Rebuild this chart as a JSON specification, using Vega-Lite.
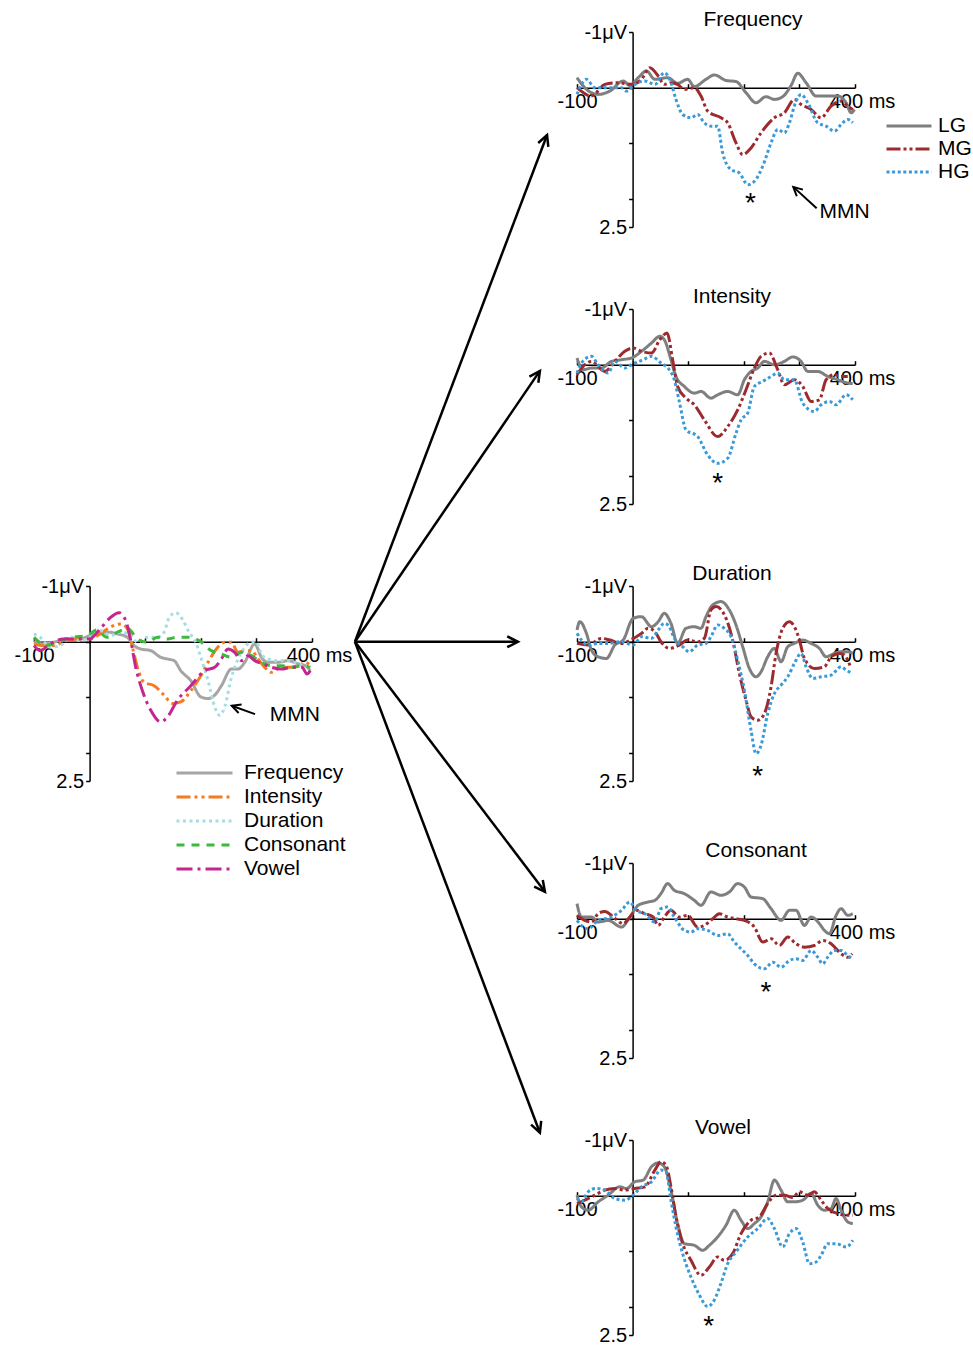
{
"$schema": "https://vega.github.io/schema/vega-lite/v6.json",
"background": "white",
"padding": {"left": 13, "top": 9, "right": 0, "bottom": 0},
"config": {
 "font": "Liberation Sans",
 "view": {"stroke": null},
 "axis": {"domainColor": "black", "domainWidth": 1.5, "tickColor": "black", "tickWidth": 1.5, "labelColor": "black", "labelFontSize": 20, "labelFont": "Liberation Sans", "grid": false, "labelFlush": false, "labelOverlap": false, "labelBound": false},
 "axisX": {"tickSize": -4, "labelPadding": 8},
 "axisY": {"tickSize": 4, "labelPadding": 2},
 "title": {"fontSize": 21, "fontWeight": "normal", "font": "Liberation Sans", "color": "black", "anchor": "middle", "frame": "group", "offset": -8, "baseline": "alphabetic"},
 "legend": {"symbolType": "stroke", "symbolStrokeWidth": 3, "labelFontSize": 21, "labelColor": "black", "labelFont": "Liberation Sans", "rowPadding": 0, "labelLimit": 300},
 "text": {"color": "black", "font": "Liberation Sans"}
},
"datasets": {
 "overall": [
  {"condition":"Frequency","ms":-100,"uv":0},{"condition":"Frequency","ms":-83,"uv":0.04},{"condition":"Frequency","ms":-65,"uv":0.01},{"condition":"Frequency","ms":-41,"uv":-0.05},{"condition":"Frequency","ms":-17,"uv":-0.05},{"condition":"Frequency","ms":0,"uv":-0.11},{"condition":"Frequency","ms":19,"uv":-0.17},{"condition":"Frequency","ms":37,"uv":-0.17},{"condition":"Frequency","ms":50,"uv":-0.14},{"condition":"Frequency","ms":68,"uv":-0.08},{"condition":"Frequency","ms":80,"uv":0.07},{"condition":"Frequency","ms":92,"uv":0.13},{"condition":"Frequency","ms":110,"uv":0.16},{"condition":"Frequency","ms":128,"uv":0.28},{"condition":"Frequency","ms":140,"uv":0.31},{"condition":"Frequency","ms":152,"uv":0.34},{"condition":"Frequency","ms":164,"uv":0.52},{"condition":"Frequency","ms":182,"uv":0.7},{"condition":"Frequency","ms":200,"uv":0.99},{"condition":"Frequency","ms":213,"uv":1.02},{"condition":"Frequency","ms":225,"uv":0.96},{"condition":"Frequency","ms":237,"uv":0.79},{"condition":"Frequency","ms":255,"uv":0.49},{"condition":"Frequency","ms":267,"uv":0.49},{"condition":"Frequency","ms":279,"uv":0.37},{"condition":"Frequency","ms":297,"uv":0.04},{"condition":"Frequency","ms":309,"uv":0.28},{"condition":"Frequency","ms":321,"uv":0.37},{"condition":"Frequency","ms":339,"uv":0.37},{"condition":"Frequency","ms":357,"uv":0.34},{"condition":"Frequency","ms":376,"uv":0.4},{"condition":"Frequency","ms":388,"uv":0.43},{"condition":"Frequency","ms":397,"uv":0.52},
  {"condition":"Intensity","ms":-100,"uv":0.04},{"condition":"Intensity","ms":-83,"uv":0.07},{"condition":"Intensity","ms":-65,"uv":0.07},{"condition":"Intensity","ms":-41,"uv":-0.02},{"condition":"Intensity","ms":-17,"uv":-0.05},{"condition":"Intensity","ms":0,"uv":-0.05},{"condition":"Intensity","ms":19,"uv":-0.14},{"condition":"Intensity","ms":37,"uv":-0.26},{"condition":"Intensity","ms":56,"uv":-0.32},{"condition":"Intensity","ms":68,"uv":-0.23},{"condition":"Intensity","ms":77,"uv":0.1},{"condition":"Intensity","ms":86,"uv":0.46},{"condition":"Intensity","ms":98,"uv":0.73},{"condition":"Intensity","ms":116,"uv":0.79},{"condition":"Intensity","ms":134,"uv":0.96},{"condition":"Intensity","ms":149,"uv":1.11},{"condition":"Intensity","ms":164,"uv":1.08},{"condition":"Intensity","ms":182,"uv":0.88},{"condition":"Intensity","ms":200,"uv":0.61},{"condition":"Intensity","ms":213,"uv":0.37},{"condition":"Intensity","ms":228,"uv":0.13},{"condition":"Intensity","ms":243,"uv":0.01},{"condition":"Intensity","ms":255,"uv":0.01},{"condition":"Intensity","ms":267,"uv":0.19},{"condition":"Intensity","ms":279,"uv":0.16},{"condition":"Intensity","ms":291,"uv":0.16},{"condition":"Intensity","ms":303,"uv":0.31},{"condition":"Intensity","ms":315,"uv":0.46},{"condition":"Intensity","ms":327,"uv":0.55},{"condition":"Intensity","ms":345,"uv":0.46},{"condition":"Intensity","ms":364,"uv":0.46},{"condition":"Intensity","ms":376,"uv":0.43},{"condition":"Intensity","ms":388,"uv":0.37},{"condition":"Intensity","ms":397,"uv":0.43},
  {"condition":"Duration","ms":-100,"uv":-0.14},{"condition":"Duration","ms":-89,"uv":-0.08},{"condition":"Duration","ms":-71,"uv":0.1},{"condition":"Duration","ms":-53,"uv":0.07},{"condition":"Duration","ms":-35,"uv":-0.08},{"condition":"Duration","ms":-17,"uv":-0.02},{"condition":"Duration","ms":0,"uv":-0.08},{"condition":"Duration","ms":19,"uv":-0.2},{"condition":"Duration","ms":37,"uv":-0.11},{"condition":"Duration","ms":56,"uv":-0.17},{"condition":"Duration","ms":71,"uv":-0.14},{"condition":"Duration","ms":86,"uv":0.01},{"condition":"Duration","ms":104,"uv":-0.08},{"condition":"Duration","ms":122,"uv":-0.08},{"condition":"Duration","ms":134,"uv":-0.17},{"condition":"Duration","ms":143,"uv":-0.43},{"condition":"Duration","ms":155,"uv":-0.52},{"condition":"Duration","ms":167,"uv":-0.4},{"condition":"Duration","ms":179,"uv":-0.17},{"condition":"Duration","ms":191,"uv":0.01},{"condition":"Duration","ms":200,"uv":0.28},{"condition":"Duration","ms":213,"uv":0.7},{"condition":"Duration","ms":225,"uv":1.17},{"condition":"Duration","ms":234,"uv":1.32},{"condition":"Duration","ms":243,"uv":1.17},{"condition":"Duration","ms":255,"uv":0.64},{"condition":"Duration","ms":267,"uv":0.31},{"condition":"Duration","ms":279,"uv":0.1},{"condition":"Duration","ms":291,"uv":0.01},{"condition":"Duration","ms":300,"uv":0.01},{"condition":"Duration","ms":309,"uv":0.22},{"condition":"Duration","ms":321,"uv":0.31},{"condition":"Duration","ms":339,"uv":0.34},{"condition":"Duration","ms":357,"uv":0.34},{"condition":"Duration","ms":376,"uv":0.4},{"condition":"Duration","ms":397,"uv":0.46},
  {"condition":"Consonant","ms":-100,"uv":-0.08},{"condition":"Consonant","ms":-77,"uv":0.07},{"condition":"Consonant","ms":-53,"uv":-0.02},{"condition":"Consonant","ms":-29,"uv":-0.08},{"condition":"Consonant","ms":-5,"uv":-0.11},{"condition":"Consonant","ms":13,"uv":-0.21},{"condition":"Consonant","ms":31,"uv":-0.08},{"condition":"Consonant","ms":50,"uv":-0.17},{"condition":"Consonant","ms":68,"uv":-0.24},{"condition":"Consonant","ms":86,"uv":-0.05},{"condition":"Consonant","ms":104,"uv":0.01},{"condition":"Consonant","ms":122,"uv":-0.08},{"condition":"Consonant","ms":140,"uv":-0.05},{"condition":"Consonant","ms":158,"uv":-0.08},{"condition":"Consonant","ms":176,"uv":-0.08},{"condition":"Consonant","ms":197,"uv":-0.02},{"condition":"Consonant","ms":219,"uv":0.16},{"condition":"Consonant","ms":237,"uv":0.22},{"condition":"Consonant","ms":255,"uv":0.28},{"condition":"Consonant","ms":273,"uv":0.19},{"condition":"Consonant","ms":291,"uv":0.25},{"condition":"Consonant","ms":309,"uv":0.37},{"condition":"Consonant","ms":327,"uv":0.43},{"condition":"Consonant","ms":345,"uv":0.43},{"condition":"Consonant","ms":364,"uv":0.46},{"condition":"Consonant","ms":382,"uv":0.43},{"condition":"Consonant","ms":397,"uv":0.46},
  {"condition":"Vowel","ms":-100,"uv":0.07},{"condition":"Vowel","ms":-89,"uv":0.16},{"condition":"Vowel","ms":-71,"uv":0.04},{"condition":"Vowel","ms":-47,"uv":-0.05},{"condition":"Vowel","ms":-23,"uv":-0.05},{"condition":"Vowel","ms":0,"uv":-0.05},{"condition":"Vowel","ms":19,"uv":-0.23},{"condition":"Vowel","ms":37,"uv":-0.43},{"condition":"Vowel","ms":53,"uv":-0.52},{"condition":"Vowel","ms":65,"uv":-0.38},{"condition":"Vowel","ms":74,"uv":-0.02},{"condition":"Vowel","ms":83,"uv":0.46},{"condition":"Vowel","ms":95,"uv":0.88},{"condition":"Vowel","ms":110,"uv":1.23},{"condition":"Vowel","ms":128,"uv":1.44},{"condition":"Vowel","ms":140,"uv":1.35},{"condition":"Vowel","ms":158,"uv":1.05},{"condition":"Vowel","ms":182,"uv":0.79},{"condition":"Vowel","ms":207,"uv":0.52},{"condition":"Vowel","ms":225,"uv":0.46},{"condition":"Vowel","ms":237,"uv":0.31},{"condition":"Vowel","ms":249,"uv":0.13},{"condition":"Vowel","ms":261,"uv":0.19},{"condition":"Vowel","ms":273,"uv":0.34},{"condition":"Vowel","ms":285,"uv":0.25},{"condition":"Vowel","ms":297,"uv":0.34},{"condition":"Vowel","ms":312,"uv":0.4},{"condition":"Vowel","ms":327,"uv":0.46},{"condition":"Vowel","ms":345,"uv":0.49},{"condition":"Vowel","ms":364,"uv":0.46},{"condition":"Vowel","ms":382,"uv":0.46},{"condition":"Vowel","ms":391,"uv":0.58},{"condition":"Vowel","ms":397,"uv":0.52}
 ],
 "erp": [
  {"panel":"Frequency","group":"LG","ms":-100,"uv":-0.18},{"panel":"Frequency","group":"LG","ms":-86,"uv":0},{"panel":"Frequency","group":"LG","ms":-62,"uv":0.12},{"panel":"Frequency","group":"LG","ms":-41,"uv":0.06},{"panel":"Frequency","group":"LG","ms":-17,"uv":-0.12},{"panel":"Frequency","group":"LG","ms":-5,"uv":-0.04},{"panel":"Frequency","group":"LG","ms":10,"uv":-0.18},{"panel":"Frequency","group":"LG","ms":25,"uv":-0.3},{"panel":"Frequency","group":"LG","ms":40,"uv":-0.15},{"panel":"Frequency","group":"LG","ms":63,"uv":-0.18},{"panel":"Frequency","group":"LG","ms":81,"uv":-0.08},{"panel":"Frequency","group":"LG","ms":99,"uv":-0.15},{"panel":"Frequency","group":"LG","ms":111,"uv":-0.02},{"panel":"Frequency","group":"LG","ms":132,"uv":-0.15},{"panel":"Frequency","group":"LG","ms":147,"uv":-0.23},{"panel":"Frequency","group":"LG","ms":168,"uv":-0.13},{"panel":"Frequency","group":"LG","ms":186,"uv":-0.11},{"panel":"Frequency","group":"LG","ms":204,"uv":0.09},{"panel":"Frequency","group":"LG","ms":222,"uv":0.27},{"panel":"Frequency","group":"LG","ms":240,"uv":0.16},{"panel":"Frequency","group":"LG","ms":255,"uv":0.21},{"panel":"Frequency","group":"LG","ms":270,"uv":0.16},{"panel":"Frequency","group":"LG","ms":285,"uv":-0.04},{"panel":"Frequency","group":"LG","ms":297,"uv":-0.26},{"panel":"Frequency","group":"LG","ms":312,"uv":-0.09},{"panel":"Frequency","group":"LG","ms":330,"uv":0.15},{"panel":"Frequency","group":"LG","ms":348,"uv":0.15},{"panel":"Frequency","group":"LG","ms":369,"uv":0.15},{"panel":"Frequency","group":"LG","ms":384,"uv":0.27},{"panel":"Frequency","group":"LG","ms":393,"uv":0.45},{"panel":"Frequency","group":"LG","ms":399,"uv":0.39},
  {"panel":"Frequency","group":"MG","ms":-100,"uv":0},{"panel":"Frequency","group":"MG","ms":-74,"uv":0.15},{"panel":"Frequency","group":"MG","ms":-50,"uv":-0.06},{"panel":"Frequency","group":"MG","ms":-26,"uv":-0.09},{"panel":"Frequency","group":"MG","ms":-2,"uv":-0.06},{"panel":"Frequency","group":"MG","ms":16,"uv":-0.15},{"panel":"Frequency","group":"MG","ms":31,"uv":-0.36},{"panel":"Frequency","group":"MG","ms":46,"uv":-0.21},{"panel":"Frequency","group":"MG","ms":57,"uv":-0.06},{"panel":"Frequency","group":"MG","ms":69,"uv":-0.09},{"panel":"Frequency","group":"MG","ms":81,"uv":-0.06},{"panel":"Frequency","group":"MG","ms":93,"uv":0.03},{"panel":"Frequency","group":"MG","ms":111,"uv":0},{"panel":"Frequency","group":"MG","ms":123,"uv":0.15},{"panel":"Frequency","group":"MG","ms":135,"uv":0.42},{"panel":"Frequency","group":"MG","ms":159,"uv":0.54},{"panel":"Frequency","group":"MG","ms":171,"uv":0.63},{"panel":"Frequency","group":"MG","ms":186,"uv":0.99},{"panel":"Frequency","group":"MG","ms":198,"uv":1.2},{"panel":"Frequency","group":"MG","ms":213,"uv":1.08},{"panel":"Frequency","group":"MG","ms":231,"uv":0.81},{"panel":"Frequency","group":"MG","ms":255,"uv":0.54},{"panel":"Frequency","group":"MG","ms":273,"uv":0.45},{"panel":"Frequency","group":"MG","ms":291,"uv":0.21},{"panel":"Frequency","group":"MG","ms":303,"uv":0.3},{"panel":"Frequency","group":"MG","ms":321,"uv":0.39},{"panel":"Frequency","group":"MG","ms":339,"uv":0.54},{"panel":"Frequency","group":"MG","ms":357,"uv":0.33},{"panel":"Frequency","group":"MG","ms":375,"uv":0.24},{"panel":"Frequency","group":"MG","ms":387,"uv":0.33},{"panel":"Frequency","group":"MG","ms":396,"uv":0.39},
  {"panel":"Frequency","group":"HG","ms":-100,"uv":0.12},{"panel":"Frequency","group":"HG","ms":-83,"uv":-0.15},{"panel":"Frequency","group":"HG","ms":-68,"uv":0},{"panel":"Frequency","group":"HG","ms":-44,"uv":0},{"panel":"Frequency","group":"HG","ms":-20,"uv":0},{"panel":"Frequency","group":"HG","ms":-11,"uv":0.06},{"panel":"Frequency","group":"HG","ms":4,"uv":-0.06},{"panel":"Frequency","group":"HG","ms":22,"uv":-0.12},{"panel":"Frequency","group":"HG","ms":40,"uv":-0.06},{"panel":"Frequency","group":"HG","ms":57,"uv":-0.27},{"panel":"Frequency","group":"HG","ms":69,"uv":-0.09},{"panel":"Frequency","group":"HG","ms":78,"uv":0.21},{"panel":"Frequency","group":"HG","ms":90,"uv":0.48},{"panel":"Frequency","group":"HG","ms":105,"uv":0.54},{"panel":"Frequency","group":"HG","ms":117,"uv":0.48},{"panel":"Frequency","group":"HG","ms":129,"uv":0.63},{"panel":"Frequency","group":"HG","ms":141,"uv":0.69},{"panel":"Frequency","group":"HG","ms":153,"uv":0.69},{"panel":"Frequency","group":"HG","ms":162,"uv":1.17},{"panel":"Frequency","group":"HG","ms":177,"uv":1.47},{"panel":"Frequency","group":"HG","ms":192,"uv":1.53},{"panel":"Frequency","group":"HG","ms":207,"uv":1.74},{"panel":"Frequency","group":"HG","ms":219,"uv":1.68},{"panel":"Frequency","group":"HG","ms":234,"uv":1.41},{"panel":"Frequency","group":"HG","ms":249,"uv":0.99},{"panel":"Frequency","group":"HG","ms":261,"uv":0.75},{"panel":"Frequency","group":"HG","ms":273,"uv":0.81},{"panel":"Frequency","group":"HG","ms":282,"uv":0.63},{"panel":"Frequency","group":"HG","ms":294,"uv":0.24},{"panel":"Frequency","group":"HG","ms":303,"uv":0.12},{"panel":"Frequency","group":"HG","ms":315,"uv":0.27},{"panel":"Frequency","group":"HG","ms":333,"uv":0.63},{"panel":"Frequency","group":"HG","ms":348,"uv":0.69},{"panel":"Frequency","group":"HG","ms":363,"uv":0.78},{"panel":"Frequency","group":"HG","ms":375,"uv":0.66},{"panel":"Frequency","group":"HG","ms":387,"uv":0.57},{"panel":"Frequency","group":"HG","ms":396,"uv":0.63},
  {"panel":"Intensity","group":"LG","ms":-100,"uv":-0.12},{"panel":"Intensity","group":"LG","ms":-89,"uv":0.09},{"panel":"Intensity","group":"LG","ms":-74,"uv":0.06},{"panel":"Intensity","group":"LG","ms":-56,"uv":0.06},{"panel":"Intensity","group":"LG","ms":-38,"uv":-0.06},{"panel":"Intensity","group":"LG","ms":-20,"uv":-0.09},{"panel":"Intensity","group":"LG","ms":-2,"uv":-0.12},{"panel":"Intensity","group":"LG","ms":16,"uv":-0.24},{"panel":"Intensity","group":"LG","ms":34,"uv":-0.39},{"panel":"Intensity","group":"LG","ms":49,"uv":-0.51},{"panel":"Intensity","group":"LG","ms":57,"uv":-0.45},{"panel":"Intensity","group":"LG","ms":69,"uv":-0.09},{"panel":"Intensity","group":"LG","ms":78,"uv":0.21},{"panel":"Intensity","group":"LG","ms":93,"uv":0.39},{"panel":"Intensity","group":"LG","ms":111,"uv":0.51},{"panel":"Intensity","group":"LG","ms":123,"uv":0.48},{"panel":"Intensity","group":"LG","ms":141,"uv":0.6},{"panel":"Intensity","group":"LG","ms":153,"uv":0.54},{"panel":"Intensity","group":"LG","ms":171,"uv":0.48},{"panel":"Intensity","group":"LG","ms":189,"uv":0.54},{"panel":"Intensity","group":"LG","ms":201,"uv":0.27},{"panel":"Intensity","group":"LG","ms":213,"uv":0.12},{"panel":"Intensity","group":"LG","ms":225,"uv":0.06},{"panel":"Intensity","group":"LG","ms":237,"uv":-0.06},{"panel":"Intensity","group":"LG","ms":255,"uv":0},{"panel":"Intensity","group":"LG","ms":273,"uv":-0.06},{"panel":"Intensity","group":"LG","ms":288,"uv":-0.14},{"panel":"Intensity","group":"LG","ms":303,"uv":-0.06},{"panel":"Intensity","group":"LG","ms":315,"uv":0.12},{"panel":"Intensity","group":"LG","ms":333,"uv":0.12},{"panel":"Intensity","group":"LG","ms":351,"uv":0.21},{"panel":"Intensity","group":"LG","ms":369,"uv":0.27},{"panel":"Intensity","group":"LG","ms":387,"uv":0.33},{"panel":"Intensity","group":"LG","ms":396,"uv":0.34},
  {"panel":"Intensity","group":"MG","ms":-100,"uv":0.18},{"panel":"Intensity","group":"MG","ms":-86,"uv":0},{"panel":"Intensity","group":"MG","ms":-74,"uv":-0.06},{"panel":"Intensity","group":"MG","ms":-50,"uv":0.12},{"panel":"Intensity","group":"MG","ms":-32,"uv":-0.06},{"panel":"Intensity","group":"MG","ms":-14,"uv":-0.24},{"panel":"Intensity","group":"MG","ms":1,"uv":-0.3},{"panel":"Intensity","group":"MG","ms":16,"uv":-0.24},{"panel":"Intensity","group":"MG","ms":34,"uv":-0.21},{"panel":"Intensity","group":"MG","ms":49,"uv":-0.45},{"panel":"Intensity","group":"MG","ms":62,"uv":-0.57},{"panel":"Intensity","group":"MG","ms":72,"uv":-0.09},{"panel":"Intensity","group":"MG","ms":81,"uv":0.39},{"panel":"Intensity","group":"MG","ms":96,"uv":0.6},{"panel":"Intensity","group":"MG","ms":111,"uv":0.72},{"panel":"Intensity","group":"MG","ms":129,"uv":0.99},{"panel":"Intensity","group":"MG","ms":153,"uv":1.29},{"panel":"Intensity","group":"MG","ms":171,"uv":1.11},{"panel":"Intensity","group":"MG","ms":189,"uv":0.81},{"panel":"Intensity","group":"MG","ms":204,"uv":0.45},{"panel":"Intensity","group":"MG","ms":219,"uv":0.06},{"panel":"Intensity","group":"MG","ms":231,"uv":-0.15},{"panel":"Intensity","group":"MG","ms":246,"uv":-0.21},{"panel":"Intensity","group":"MG","ms":261,"uv":0.09},{"panel":"Intensity","group":"MG","ms":273,"uv":0.36},{"panel":"Intensity","group":"MG","ms":291,"uv":0.27},{"panel":"Intensity","group":"MG","ms":306,"uv":0.39},{"panel":"Intensity","group":"MG","ms":321,"uv":0.66},{"panel":"Intensity","group":"MG","ms":336,"uv":0.63},{"panel":"Intensity","group":"MG","ms":348,"uv":0.27},{"panel":"Intensity","group":"MG","ms":363,"uv":0.18},{"panel":"Intensity","group":"MG","ms":375,"uv":0.21},{"panel":"Intensity","group":"MG","ms":387,"uv":0.21},
  {"panel":"Intensity","group":"HG","ms":-100,"uv":0.15},{"panel":"Intensity","group":"HG","ms":-92,"uv":-0.03},{"panel":"Intensity","group":"HG","ms":-74,"uv":-0.15},{"panel":"Intensity","group":"HG","ms":-62,"uv":0},{"panel":"Intensity","group":"HG","ms":-44,"uv":0.15},{"panel":"Intensity","group":"HG","ms":-32,"uv":-0.06},{"panel":"Intensity","group":"HG","ms":-14,"uv":0.06},{"panel":"Intensity","group":"HG","ms":-2,"uv":0},{"panel":"Intensity","group":"HG","ms":19,"uv":-0.09},{"panel":"Intensity","group":"HG","ms":34,"uv":-0.15},{"panel":"Intensity","group":"HG","ms":51,"uv":-0.03},{"panel":"Intensity","group":"HG","ms":66,"uv":0.09},{"panel":"Intensity","group":"HG","ms":75,"uv":0.27},{"panel":"Intensity","group":"HG","ms":84,"uv":0.66},{"panel":"Intensity","group":"HG","ms":96,"uv":1.17},{"panel":"Intensity","group":"HG","ms":117,"uv":1.29},{"panel":"Intensity","group":"HG","ms":135,"uv":1.62},{"panel":"Intensity","group":"HG","ms":153,"uv":1.77},{"panel":"Intensity","group":"HG","ms":171,"uv":1.68},{"panel":"Intensity","group":"HG","ms":186,"uv":1.23},{"panel":"Intensity","group":"HG","ms":195,"uv":0.99},{"panel":"Intensity","group":"HG","ms":207,"uv":0.87},{"panel":"Intensity","group":"HG","ms":219,"uv":0.39},{"panel":"Intensity","group":"HG","ms":234,"uv":0.3},{"panel":"Intensity","group":"HG","ms":249,"uv":0.21},{"panel":"Intensity","group":"HG","ms":261,"uv":0.15},{"panel":"Intensity","group":"HG","ms":273,"uv":0.27},{"panel":"Intensity","group":"HG","ms":291,"uv":0.27},{"panel":"Intensity","group":"HG","ms":306,"uv":0.69},{"panel":"Intensity","group":"HG","ms":327,"uv":0.84},{"panel":"Intensity","group":"HG","ms":339,"uv":0.72},{"panel":"Intensity","group":"HG","ms":354,"uv":0.66},{"panel":"Intensity","group":"HG","ms":366,"uv":0.72},{"panel":"Intensity","group":"HG","ms":384,"uv":0.54},{"panel":"Intensity","group":"HG","ms":396,"uv":0.63},
  {"panel":"Duration","group":"LG","ms":-100,"uv":-0.21},{"panel":"Duration","group":"LG","ms":-95,"uv":-0.36},{"panel":"Duration","group":"LG","ms":-83,"uv":-0.15},{"panel":"Duration","group":"LG","ms":-74,"uv":0.15},{"panel":"Duration","group":"LG","ms":-62,"uv":0.27},{"panel":"Duration","group":"LG","ms":-47,"uv":0.3},{"panel":"Duration","group":"LG","ms":-32,"uv":0.06},{"panel":"Duration","group":"LG","ms":-17,"uv":-0.03},{"panel":"Duration","group":"LG","ms":1,"uv":-0.42},{"panel":"Duration","group":"LG","ms":16,"uv":-0.45},{"panel":"Duration","group":"LG","ms":34,"uv":-0.27},{"panel":"Duration","group":"LG","ms":46,"uv":-0.36},{"panel":"Duration","group":"LG","ms":57,"uv":-0.51},{"panel":"Duration","group":"LG","ms":69,"uv":-0.33},{"panel":"Duration","group":"LG","ms":81,"uv":0.03},{"panel":"Duration","group":"LG","ms":96,"uv":-0.24},{"panel":"Duration","group":"LG","ms":111,"uv":-0.27},{"panel":"Duration","group":"LG","ms":123,"uv":-0.24},{"panel":"Duration","group":"LG","ms":132,"uv":-0.45},{"panel":"Duration","group":"LG","ms":144,"uv":-0.66},{"panel":"Duration","group":"LG","ms":159,"uv":-0.72},{"panel":"Duration","group":"LG","ms":174,"uv":-0.57},{"panel":"Duration","group":"LG","ms":186,"uv":-0.3},{"panel":"Duration","group":"LG","ms":198,"uv":0.09},{"panel":"Duration","group":"LG","ms":210,"uv":0.48},{"panel":"Duration","group":"LG","ms":222,"uv":0.63},{"panel":"Duration","group":"LG","ms":231,"uv":0.54},{"panel":"Duration","group":"LG","ms":243,"uv":0.27},{"panel":"Duration","group":"LG","ms":255,"uv":0.12},{"panel":"Duration","group":"LG","ms":267,"uv":0.36},{"panel":"Duration","group":"LG","ms":279,"uv":0.09},{"panel":"Duration","group":"LG","ms":291,"uv":0.03},{"panel":"Duration","group":"LG","ms":306,"uv":-0.03},{"panel":"Duration","group":"LG","ms":321,"uv":0.03},{"panel":"Duration","group":"LG","ms":336,"uv":0.12},{"panel":"Duration","group":"LG","ms":348,"uv":0.27},{"panel":"Duration","group":"LG","ms":363,"uv":0.21},{"panel":"Duration","group":"LG","ms":375,"uv":0.18},{"panel":"Duration","group":"LG","ms":387,"uv":0.18},{"panel":"Duration","group":"LG","ms":396,"uv":0.21},
  {"panel":"Duration","group":"MG","ms":-100,"uv":0.03},{"panel":"Duration","group":"MG","ms":-80,"uv":0.06},{"panel":"Duration","group":"MG","ms":-56,"uv":-0.06},{"panel":"Duration","group":"MG","ms":-41,"uv":-0.03},{"panel":"Duration","group":"MG","ms":-20,"uv":0.03},{"panel":"Duration","group":"MG","ms":-2,"uv":-0.04},{"panel":"Duration","group":"MG","ms":16,"uv":-0.15},{"panel":"Duration","group":"MG","ms":28,"uv":-0.24},{"panel":"Duration","group":"MG","ms":40,"uv":-0.18},{"panel":"Duration","group":"MG","ms":51,"uv":0},{"panel":"Duration","group":"MG","ms":66,"uv":0.12},{"panel":"Duration","group":"MG","ms":84,"uv":0.06},{"panel":"Duration","group":"MG","ms":99,"uv":-0.03},{"panel":"Duration","group":"MG","ms":117,"uv":0},{"panel":"Duration","group":"MG","ms":129,"uv":-0.06},{"panel":"Duration","group":"MG","ms":141,"uv":-0.57},{"panel":"Duration","group":"MG","ms":150,"uv":-0.63},{"panel":"Duration","group":"MG","ms":168,"uv":-0.42},{"panel":"Duration","group":"MG","ms":180,"uv":-0.03},{"panel":"Duration","group":"MG","ms":192,"uv":0.57},{"panel":"Duration","group":"MG","ms":204,"uv":1.05},{"panel":"Duration","group":"MG","ms":213,"uv":1.35},{"panel":"Duration","group":"MG","ms":225,"uv":1.41},{"panel":"Duration","group":"MG","ms":237,"uv":1.29},{"panel":"Duration","group":"MG","ms":249,"uv":0.81},{"panel":"Duration","group":"MG","ms":258,"uv":0.21},{"panel":"Duration","group":"MG","ms":270,"uv":-0.24},{"panel":"Duration","group":"MG","ms":282,"uv":-0.36},{"panel":"Duration","group":"MG","ms":291,"uv":-0.27},{"panel":"Duration","group":"MG","ms":300,"uv":-0.03},{"panel":"Duration","group":"MG","ms":309,"uv":0.3},{"panel":"Duration","group":"MG","ms":327,"uv":0.48},{"panel":"Duration","group":"MG","ms":345,"uv":0.45},{"panel":"Duration","group":"MG","ms":357,"uv":0.27},{"panel":"Duration","group":"MG","ms":372,"uv":0.21},{"panel":"Duration","group":"MG","ms":381,"uv":0.24},{"panel":"Duration","group":"MG","ms":393,"uv":0.48},
  {"panel":"Duration","group":"HG","ms":-100,"uv":-0.15},{"panel":"Duration","group":"HG","ms":-92,"uv":-0.03},{"panel":"Duration","group":"HG","ms":-80,"uv":0.06},{"panel":"Duration","group":"HG","ms":-62,"uv":0.03},{"panel":"Duration","group":"HG","ms":-44,"uv":0.03},{"panel":"Duration","group":"HG","ms":-20,"uv":0},{"panel":"Duration","group":"HG","ms":1,"uv":0.06},{"panel":"Duration","group":"HG","ms":16,"uv":-0.09},{"panel":"Duration","group":"HG","ms":34,"uv":-0.06},{"panel":"Duration","group":"HG","ms":46,"uv":-0.21},{"panel":"Duration","group":"HG","ms":57,"uv":-0.33},{"panel":"Duration","group":"HG","ms":66,"uv":-0.27},{"panel":"Duration","group":"HG","ms":75,"uv":-0.06},{"panel":"Duration","group":"HG","ms":90,"uv":0.09},{"panel":"Duration","group":"HG","ms":102,"uv":0.18},{"panel":"Duration","group":"HG","ms":117,"uv":0.06},{"panel":"Duration","group":"HG","ms":132,"uv":0.03},{"panel":"Duration","group":"HG","ms":141,"uv":-0.09},{"panel":"Duration","group":"HG","ms":153,"uv":-0.3},{"panel":"Duration","group":"HG","ms":165,"uv":-0.24},{"panel":"Duration","group":"HG","ms":177,"uv":-0.09},{"panel":"Duration","group":"HG","ms":189,"uv":0.33},{"panel":"Duration","group":"HG","ms":201,"uv":0.87},{"panel":"Duration","group":"HG","ms":213,"uv":1.59},{"panel":"Duration","group":"HG","ms":222,"uv":2.01},{"panel":"Duration","group":"HG","ms":231,"uv":1.86},{"panel":"Duration","group":"HG","ms":243,"uv":1.29},{"panel":"Duration","group":"HG","ms":255,"uv":0.93},{"panel":"Duration","group":"HG","ms":267,"uv":0.78},{"panel":"Duration","group":"HG","ms":279,"uv":0.63},{"panel":"Duration","group":"HG","ms":291,"uv":0.39},{"panel":"Duration","group":"HG","ms":303,"uv":0.21},{"panel":"Duration","group":"HG","ms":312,"uv":0.45},{"panel":"Duration","group":"HG","ms":324,"uv":0.66},{"panel":"Duration","group":"HG","ms":339,"uv":0.63},{"panel":"Duration","group":"HG","ms":357,"uv":0.6},{"panel":"Duration","group":"HG","ms":375,"uv":0.45},{"panel":"Duration","group":"HG","ms":384,"uv":0.51},{"panel":"Duration","group":"HG","ms":396,"uv":0.57},
  {"panel":"Consonant","group":"LG","ms":-100,"uv":-0.27},{"panel":"Consonant","group":"LG","ms":-92,"uv":-0.03},{"panel":"Consonant","group":"LG","ms":-74,"uv":-0.03},{"panel":"Consonant","group":"LG","ms":-62,"uv":0.06},{"panel":"Consonant","group":"LG","ms":-44,"uv":0.03},{"panel":"Consonant","group":"LG","ms":-20,"uv":0.15},{"panel":"Consonant","group":"LG","ms":-5,"uv":-0.03},{"panel":"Consonant","group":"LG","ms":10,"uv":-0.24},{"panel":"Consonant","group":"LG","ms":28,"uv":-0.3},{"panel":"Consonant","group":"LG","ms":40,"uv":-0.33},{"panel":"Consonant","group":"LG","ms":51,"uv":-0.45},{"panel":"Consonant","group":"LG","ms":63,"uv":-0.63},{"panel":"Consonant","group":"LG","ms":75,"uv":-0.51},{"panel":"Consonant","group":"LG","ms":93,"uv":-0.45},{"panel":"Consonant","group":"LG","ms":111,"uv":-0.33},{"panel":"Consonant","group":"LG","ms":123,"uv":-0.24},{"panel":"Consonant","group":"LG","ms":141,"uv":-0.48},{"panel":"Consonant","group":"LG","ms":159,"uv":-0.42},{"panel":"Consonant","group":"LG","ms":174,"uv":-0.48},{"panel":"Consonant","group":"LG","ms":189,"uv":-0.63},{"panel":"Consonant","group":"LG","ms":201,"uv":-0.57},{"panel":"Consonant","group":"LG","ms":213,"uv":-0.39},{"panel":"Consonant","group":"LG","ms":234,"uv":-0.36},{"panel":"Consonant","group":"LG","ms":249,"uv":-0.18},{"panel":"Consonant","group":"LG","ms":267,"uv":0.03},{"panel":"Consonant","group":"LG","ms":282,"uv":-0.15},{"panel":"Consonant","group":"LG","ms":294,"uv":-0.15},{"panel":"Consonant","group":"LG","ms":309,"uv":0.12},{"panel":"Consonant","group":"LG","ms":321,"uv":-0.03},{"panel":"Consonant","group":"LG","ms":336,"uv":0.09},{"panel":"Consonant","group":"LG","ms":345,"uv":0.21},{"panel":"Consonant","group":"LG","ms":354,"uv":0.27},{"panel":"Consonant","group":"LG","ms":366,"uv":-0.06},{"panel":"Consonant","group":"LG","ms":375,"uv":-0.18},{"panel":"Consonant","group":"LG","ms":387,"uv":-0.06},{"panel":"Consonant","group":"LG","ms":396,"uv":-0.09},
  {"panel":"Consonant","group":"MG","ms":-100,"uv":-0.06},{"panel":"Consonant","group":"MG","ms":-86,"uv":0.03},{"panel":"Consonant","group":"MG","ms":-74,"uv":0.06},{"panel":"Consonant","group":"MG","ms":-62,"uv":-0.09},{"panel":"Consonant","group":"MG","ms":-50,"uv":-0.13},{"panel":"Consonant","group":"MG","ms":-32,"uv":-0.01},{"panel":"Consonant","group":"MG","ms":-17,"uv":0.09},{"panel":"Consonant","group":"MG","ms":-5,"uv":-0.03},{"panel":"Consonant","group":"MG","ms":7,"uv":-0.15},{"panel":"Consonant","group":"MG","ms":22,"uv":-0.09},{"panel":"Consonant","group":"MG","ms":37,"uv":-0.03},{"panel":"Consonant","group":"MG","ms":46,"uv":0.12},{"panel":"Consonant","group":"MG","ms":57,"uv":-0.03},{"panel":"Consonant","group":"MG","ms":69,"uv":-0.15},{"panel":"Consonant","group":"MG","ms":84,"uv":-0.03},{"panel":"Consonant","group":"MG","ms":99,"uv":-0.06},{"panel":"Consonant","group":"MG","ms":117,"uv":0.15},{"panel":"Consonant","group":"MG","ms":129,"uv":0.12},{"panel":"Consonant","group":"MG","ms":144,"uv":0},{"panel":"Consonant","group":"MG","ms":156,"uv":-0.09},{"panel":"Consonant","group":"MG","ms":171,"uv":-0.03},{"panel":"Consonant","group":"MG","ms":186,"uv":0},{"panel":"Consonant","group":"MG","ms":201,"uv":0.03},{"panel":"Consonant","group":"MG","ms":219,"uv":0.15},{"panel":"Consonant","group":"MG","ms":234,"uv":0.42},{"panel":"Consonant","group":"MG","ms":249,"uv":0.36},{"panel":"Consonant","group":"MG","ms":264,"uv":0.48},{"panel":"Consonant","group":"MG","ms":279,"uv":0.33},{"panel":"Consonant","group":"MG","ms":294,"uv":0.45},{"panel":"Consonant","group":"MG","ms":309,"uv":0.51},{"panel":"Consonant","group":"MG","ms":327,"uv":0.48},{"panel":"Consonant","group":"MG","ms":342,"uv":0.39},{"panel":"Consonant","group":"MG","ms":357,"uv":0.45},{"panel":"Consonant","group":"MG","ms":375,"uv":0.63},{"panel":"Consonant","group":"MG","ms":387,"uv":0.69},{"panel":"Consonant","group":"MG","ms":395,"uv":0.63},
  {"panel":"Consonant","group":"HG","ms":-100,"uv":0.03},{"panel":"Consonant","group":"HG","ms":-92,"uv":0.12},{"panel":"Consonant","group":"HG","ms":-80,"uv":0.18},{"panel":"Consonant","group":"HG","ms":-62,"uv":0.03},{"panel":"Consonant","group":"HG","ms":-38,"uv":-0.03},{"panel":"Consonant","group":"HG","ms":-20,"uv":-0.15},{"panel":"Consonant","group":"HG","ms":-5,"uv":-0.3},{"panel":"Consonant","group":"HG","ms":7,"uv":-0.15},{"panel":"Consonant","group":"HG","ms":22,"uv":-0.09},{"panel":"Consonant","group":"HG","ms":40,"uv":0.06},{"panel":"Consonant","group":"HG","ms":51,"uv":-0.18},{"panel":"Consonant","group":"HG","ms":63,"uv":-0.21},{"panel":"Consonant","group":"HG","ms":75,"uv":-0.03},{"panel":"Consonant","group":"HG","ms":93,"uv":0.21},{"panel":"Consonant","group":"HG","ms":105,"uv":0.24},{"panel":"Consonant","group":"HG","ms":117,"uv":0.18},{"panel":"Consonant","group":"HG","ms":135,"uv":0.21},{"panel":"Consonant","group":"HG","ms":153,"uv":0.3},{"panel":"Consonant","group":"HG","ms":171,"uv":0.27},{"panel":"Consonant","group":"HG","ms":183,"uv":0.42},{"panel":"Consonant","group":"HG","ms":195,"uv":0.54},{"panel":"Consonant","group":"HG","ms":207,"uv":0.66},{"panel":"Consonant","group":"HG","ms":219,"uv":0.81},{"panel":"Consonant","group":"HG","ms":237,"uv":0.9},{"panel":"Consonant","group":"HG","ms":252,"uv":0.78},{"panel":"Consonant","group":"HG","ms":267,"uv":0.87},{"panel":"Consonant","group":"HG","ms":282,"uv":0.75},{"panel":"Consonant","group":"HG","ms":294,"uv":0.72},{"panel":"Consonant","group":"HG","ms":306,"uv":0.75},{"panel":"Consonant","group":"HG","ms":321,"uv":0.57},{"panel":"Consonant","group":"HG","ms":333,"uv":0.69},{"panel":"Consonant","group":"HG","ms":342,"uv":0.81},{"panel":"Consonant","group":"HG","ms":351,"uv":0.69},{"panel":"Consonant","group":"HG","ms":363,"uv":0.57},{"panel":"Consonant","group":"HG","ms":375,"uv":0.57},{"panel":"Consonant","group":"HG","ms":387,"uv":0.66},{"panel":"Consonant","group":"HG","ms":395,"uv":0.72},
  {"panel":"Vowel","group":"LG","ms":-100,"uv":-0.01},{"panel":"Vowel","group":"LG","ms":-92,"uv":0.2},{"panel":"Vowel","group":"LG","ms":-80,"uv":0.26},{"panel":"Vowel","group":"LG","ms":-62,"uv":0.11},{"panel":"Vowel","group":"LG","ms":-44,"uv":-0.01},{"panel":"Vowel","group":"LG","ms":-23,"uv":-0.16},{"panel":"Vowel","group":"LG","ms":-11,"uv":-0.13},{"panel":"Vowel","group":"LG","ms":4,"uv":-0.25},{"panel":"Vowel","group":"LG","ms":19,"uv":-0.28},{"panel":"Vowel","group":"LG","ms":34,"uv":-0.52},{"panel":"Vowel","group":"LG","ms":46,"uv":-0.59},{"panel":"Vowel","group":"LG","ms":57,"uv":-0.52},{"panel":"Vowel","group":"LG","ms":69,"uv":-0.1},{"panel":"Vowel","group":"LG","ms":81,"uv":0.5},{"panel":"Vowel","group":"LG","ms":93,"uv":0.86},{"panel":"Vowel","group":"LG","ms":111,"uv":0.89},{"panel":"Vowel","group":"LG","ms":126,"uv":0.98},{"panel":"Vowel","group":"LG","ms":138,"uv":0.89},{"panel":"Vowel","group":"LG","ms":153,"uv":0.74},{"panel":"Vowel","group":"LG","ms":168,"uv":0.53},{"panel":"Vowel","group":"LG","ms":183,"uv":0.26},{"panel":"Vowel","group":"LG","ms":195,"uv":0.44},{"panel":"Vowel","group":"LG","ms":207,"uv":0.59},{"panel":"Vowel","group":"LG","ms":219,"uv":0.5},{"panel":"Vowel","group":"LG","ms":231,"uv":0.38},{"panel":"Vowel","group":"LG","ms":243,"uv":0.11},{"panel":"Vowel","group":"LG","ms":255,"uv":-0.28},{"panel":"Vowel","group":"LG","ms":267,"uv":-0.1},{"panel":"Vowel","group":"LG","ms":279,"uv":0.11},{"panel":"Vowel","group":"LG","ms":291,"uv":0.11},{"panel":"Vowel","group":"LG","ms":306,"uv":0.08},{"panel":"Vowel","group":"LG","ms":321,"uv":-0.04},{"panel":"Vowel","group":"LG","ms":333,"uv":0.17},{"panel":"Vowel","group":"LG","ms":345,"uv":0.26},{"panel":"Vowel","group":"LG","ms":357,"uv":0.23},{"panel":"Vowel","group":"LG","ms":366,"uv":0.05},{"panel":"Vowel","group":"LG","ms":375,"uv":0.26},{"panel":"Vowel","group":"LG","ms":387,"uv":0.47},{"panel":"Vowel","group":"LG","ms":396,"uv":0.5},
  {"panel":"Vowel","group":"MG","ms":-100,"uv":0.14},{"panel":"Vowel","group":"MG","ms":-86,"uv":0.08},{"panel":"Vowel","group":"MG","ms":-68,"uv":-0.01},{"panel":"Vowel","group":"MG","ms":-50,"uv":-0.1},{"panel":"Vowel","group":"MG","ms":-32,"uv":-0.13},{"panel":"Vowel","group":"MG","ms":-14,"uv":-0.1},{"panel":"Vowel","group":"MG","ms":4,"uv":-0.13},{"panel":"Vowel","group":"MG","ms":22,"uv":-0.16},{"panel":"Vowel","group":"MG","ms":40,"uv":-0.46},{"panel":"Vowel","group":"MG","ms":51,"uv":-0.61},{"panel":"Vowel","group":"MG","ms":60,"uv":-0.55},{"panel":"Vowel","group":"MG","ms":69,"uv":-0.16},{"panel":"Vowel","group":"MG","ms":78,"uv":0.38},{"panel":"Vowel","group":"MG","ms":90,"uv":0.86},{"panel":"Vowel","group":"MG","ms":105,"uv":1.16},{"panel":"Vowel","group":"MG","ms":123,"uv":1.43},{"panel":"Vowel","group":"MG","ms":138,"uv":1.28},{"panel":"Vowel","group":"MG","ms":153,"uv":1.1},{"panel":"Vowel","group":"MG","ms":165,"uv":1.16},{"panel":"Vowel","group":"MG","ms":180,"uv":1.04},{"panel":"Vowel","group":"MG","ms":195,"uv":0.68},{"panel":"Vowel","group":"MG","ms":213,"uv":0.44},{"panel":"Vowel","group":"MG","ms":228,"uv":0.38},{"panel":"Vowel","group":"MG","ms":243,"uv":0.14},{"panel":"Vowel","group":"MG","ms":258,"uv":-0.01},{"panel":"Vowel","group":"MG","ms":273,"uv":-0.01},{"panel":"Vowel","group":"MG","ms":288,"uv":0.03},{"panel":"Vowel","group":"MG","ms":300,"uv":-0.07},{"panel":"Vowel","group":"MG","ms":315,"uv":-0.01},{"panel":"Vowel","group":"MG","ms":327,"uv":-0.07},{"panel":"Vowel","group":"MG","ms":339,"uv":0.08},{"panel":"Vowel","group":"MG","ms":351,"uv":0.23},{"panel":"Vowel","group":"MG","ms":369,"uv":0.32},{"panel":"Vowel","group":"MG","ms":384,"uv":0.35},{"panel":"Vowel","group":"MG","ms":396,"uv":0.35},
  {"panel":"Vowel","group":"HG","ms":-100,"uv":0.05},{"panel":"Vowel","group":"HG","ms":-92,"uv":0.11},{"panel":"Vowel","group":"HG","ms":-80,"uv":-0.07},{"panel":"Vowel","group":"HG","ms":-65,"uv":-0.13},{"panel":"Vowel","group":"HG","ms":-50,"uv":-0.1},{"panel":"Vowel","group":"HG","ms":-32,"uv":0.05},{"panel":"Vowel","group":"HG","ms":-14,"uv":0.08},{"panel":"Vowel","group":"HG","ms":1,"uv":-0.01},{"panel":"Vowel","group":"HG","ms":16,"uv":-0.16},{"panel":"Vowel","group":"HG","ms":34,"uv":-0.25},{"panel":"Vowel","group":"HG","ms":51,"uv":-0.46},{"panel":"Vowel","group":"HG","ms":60,"uv":-0.43},{"panel":"Vowel","group":"HG","ms":69,"uv":0.08},{"panel":"Vowel","group":"HG","ms":78,"uv":0.56},{"panel":"Vowel","group":"HG","ms":90,"uv":1.04},{"panel":"Vowel","group":"HG","ms":105,"uv":1.46},{"panel":"Vowel","group":"HG","ms":120,"uv":1.78},{"panel":"Vowel","group":"HG","ms":135,"uv":1.99},{"panel":"Vowel","group":"HG","ms":147,"uv":1.87},{"panel":"Vowel","group":"HG","ms":159,"uv":1.57},{"panel":"Vowel","group":"HG","ms":171,"uv":1.22},{"panel":"Vowel","group":"HG","ms":186,"uv":1.01},{"panel":"Vowel","group":"HG","ms":207,"uv":0.74},{"panel":"Vowel","group":"HG","ms":225,"uv":0.59},{"panel":"Vowel","group":"HG","ms":243,"uv":0.41},{"panel":"Vowel","group":"HG","ms":255,"uv":0.59},{"panel":"Vowel","group":"HG","ms":270,"uv":0.92},{"panel":"Vowel","group":"HG","ms":282,"uv":0.68},{"panel":"Vowel","group":"HG","ms":294,"uv":0.59},{"panel":"Vowel","group":"HG","ms":306,"uv":0.83},{"panel":"Vowel","group":"HG","ms":318,"uv":1.22},{"panel":"Vowel","group":"HG","ms":330,"uv":1.19},{"panel":"Vowel","group":"HG","ms":339,"uv":1.07},{"panel":"Vowel","group":"HG","ms":351,"uv":0.86},{"panel":"Vowel","group":"HG","ms":366,"uv":0.86},{"panel":"Vowel","group":"HG","ms":384,"uv":0.92},{"panel":"Vowel","group":"HG","ms":396,"uv":0.8}
 ],
 "notes": [
  {"panel":"Overall","label":"MMN","ms":324,"uv":1.32},
  {"panel":"Frequency","label":"MMN","ms":336,"uv":2.235},
  {"panel":"Frequency","label":"*","ms":212,"uv":2.0},
  {"panel":"Intensity","label":"*","ms":153,"uv":2.06},
  {"panel":"Duration","label":"*","ms":225,"uv":2.33},
  {"panel":"Consonant","label":"*","ms":240,"uv":1.25},
  {"panel":"Vowel","label":"*","ms":137,"uv":2.26}
 ],
 "pointers": [
  {"panel":"Overall","ms":297.5,"uv":1.3,"ms2":255.6,"uv2":1.15,"angle":-70.4},
  {"panel":"Frequency","ms":331,"uv":2.165,"ms2":289,"uv2":1.78,"angle":-47.3}
 ],
 "links": [
  {"target":"Frequency","x":0.162,"y":0.286,"x2":0.887,"y2":-2.313,"angle":20.8},
  {"target":"Intensity","x":0.162,"y":0.286,"x2":0.86,"y2":-1.103,"angle":34.3},
  {"target":"Duration","x":0.162,"y":0.286,"x2":0.777,"y2":0.286,"angle":90},
  {"target":"Consonant","x":0.162,"y":0.286,"x2":0.879,"y2":1.568,"angle":142.8},
  {"target":"Vowel","x":0.162,"y":0.286,"x2":0.86,"y2":2.804,"angle":159.4}
 ]
},
"concat": [
 {"width": 1, "height": 1, "data": {"values": []}, "mark": "point"},
 {"width": 1, "height": 1, "data": {"values": []}, "mark": "point"},
 {
  "width": 278, "height": 195,
  "title": {"text": "Frequency", "dx": 37},
  "layer": [
   {"data": {"name": "erp"}, "transform": [{"filter": "datum.panel == 'Frequency'"}],
    "mark": {"type": "line", "strokeWidth": 3, "interpolate": "monotone"},
    "encoding": {
     "x": {"field": "ms", "type": "quantitative", "scale": {"domain": [-100, 400], "nice": false}, "axis": {"orient": "bottom", "offset": -139.3, "title": null, "values": [-100, 0, 100, 200, 300, 400], "labelExpr": "datum.value == -100 ? '-100' : (datum.value == 400 ? '400 ms' : '')", "labelOffset": {"condition": {"test": "datum.value == 400", "value": 7}, "value": 0}}},
     "y": {"field": "uv", "type": "quantitative", "scale": {"domain": [-1, 2.5], "reverse": true, "nice": false}, "axis": {"orient": "left", "offset": -55.6, "title": null, "values": [-1, 0, 1, 2, 2.5], "labelExpr": "datum.value == -1 ? '-1μV' : (datum.value == 2.5 ? '2.5' : '')"}},
     "color": {"field": "group", "type": "nominal", "scale": {"domain": ["LG", "MG", "HG"], "range": ["#7F7F7F", "#9C2A2E", "#3A9AD9"]}, "legend": {"title": null, "orient": "none", "legendX": 308, "legendY": 82.5, "symbolSize": 2025, "clipHeight": 23, "labelOffset": 5}},
     "strokeDash": {"field": "group", "type": "nominal", "scale": {"domain": ["LG", "MG", "HG"], "range": [[1, 0], [14, 3, 3, 3, 3, 3], [3, 2.6]]}, "legend": {"title": null, "orient": "none", "legendX": 308, "legendY": 82.5, "symbolSize": 2025, "clipHeight": 23, "labelOffset": 5}}
    }},
   {"data": {"name": "notes"}, "transform": [{"filter": "datum.panel == 'Frequency' && datum.label == '*'"}],
    "mark": {"type": "text", "align": "center", "baseline": "alphabetic", "fontSize": 28, "dy": 13},
    "encoding": {
     "x": {"field": "ms", "type": "quantitative", "scale": {"domain": [-100, 400], "nice": false}, "title": null},
     "y": {"field": "uv", "type": "quantitative", "scale": {"domain": [-1, 2.5], "reverse": true, "nice": false}, "title": null},
     "text": {"field": "label"}
    }},
   {"data": {"name": "notes"}, "transform": [{"filter": "datum.panel == 'Frequency' && datum.label == 'MMN'"}],
    "mark": {"type": "text", "align": "left", "baseline": "middle", "fontSize": 21},
    "encoding": {
     "x": {"field": "ms", "type": "quantitative", "scale": {"domain": [-100, 400], "nice": false}, "title": null},
     "y": {"field": "uv", "type": "quantitative", "scale": {"domain": [-1, 2.5], "reverse": true, "nice": false}, "title": null},
     "text": {"field": "label"}
    }},
   {"data": {"name": "pointers"}, "transform": [{"filter": "datum.panel == 'Frequency'"}],
    "mark": {"type": "rule", "strokeWidth": 2, "color": "black"},
    "encoding": {
     "x": {"field": "ms", "type": "quantitative", "scale": {"domain": [-100, 400], "nice": false}, "title": null},
     "y": {"field": "uv", "type": "quantitative", "scale": {"domain": [-1, 2.5], "reverse": true, "nice": false}, "title": null},
     "x2": {"field": "ms2"}, "y2": {"field": "uv2"}
    }},
   {"data": {"name": "pointers"}, "transform": [{"filter": "datum.panel == 'Frequency'"}],
    "mark": {"type": "point", "shape": "M-0.45,0.89L0,0L0.45,0.89", "size": 400, "filled": false, "stroke": "black", "strokeWidth": 2, "opacity": 1},
    "encoding": {
     "x": {"field": "ms2", "type": "quantitative", "scale": {"domain": [-100, 400], "nice": false}, "title": null},
     "y": {"field": "uv2", "type": "quantitative", "scale": {"domain": [-1, 2.5], "reverse": true, "nice": false}, "title": null},
     "angle": {"field": "angle", "type": "quantitative", "scale": null}
    }}
  ]
 },
 {"width": 1, "height": 1, "data": {"values": []}, "mark": "point"},
 {"width": 1, "height": 1, "data": {"values": []}, "mark": "point"},
 {
  "width": 278, "height": 195,
  "title": {"text": "Intensity", "dx": 16},
  "layer": [
   {"data": {"name": "erp"}, "transform": [{"filter": "datum.panel == 'Intensity'"}],
    "mark": {"type": "line", "strokeWidth": 3, "interpolate": "monotone"},
    "encoding": {
     "x": {"field": "ms", "type": "quantitative", "scale": {"domain": [-100, 400], "nice": false}, "axis": {"orient": "bottom", "offset": -139.3, "title": null, "values": [-100, 0, 100, 200, 300, 400], "labelExpr": "datum.value == -100 ? '-100' : (datum.value == 400 ? '400 ms' : '')", "labelOffset": {"condition": {"test": "datum.value == 400", "value": 7}, "value": 0}}},
     "y": {"field": "uv", "type": "quantitative", "scale": {"domain": [-1, 2.5], "reverse": true, "nice": false}, "axis": {"orient": "left", "offset": -55.6, "title": null, "values": [-1, 0, 1, 2, 2.5], "labelExpr": "datum.value == -1 ? '-1μV' : (datum.value == 2.5 ? '2.5' : '')"}},
     "color": {"field": "group", "type": "nominal", "scale": {"domain": ["LG", "MG", "HG"], "range": ["#7F7F7F", "#9C2A2E", "#3A9AD9"]}, "legend": null},
     "strokeDash": {"field": "group", "type": "nominal", "scale": {"domain": ["LG", "MG", "HG"], "range": [[1, 0], [14, 3, 3, 3, 3, 3], [3, 2.6]]}, "legend": null}
    }},
   {"data": {"name": "notes"}, "transform": [{"filter": "datum.panel == 'Intensity' && datum.label == '*'"}],
    "mark": {"type": "text", "align": "center", "baseline": "alphabetic", "fontSize": 28, "dy": 13},
    "encoding": {
     "x": {"field": "ms", "type": "quantitative", "scale": {"domain": [-100, 400], "nice": false}, "title": null},
     "y": {"field": "uv", "type": "quantitative", "scale": {"domain": [-1, 2.5], "reverse": true, "nice": false}, "title": null},
     "text": {"field": "label"}
    }}
  ]
 },
 {
  "width": 278, "height": 195,
  "layer": [
   {"data": {"name": "overall"},
    "mark": {"type": "line", "strokeWidth": 3, "interpolate": "monotone"},
    "encoding": {
     "x": {"field": "ms", "type": "quantitative", "scale": {"domain": [-100, 400], "nice": false}, "axis": {"orient": "bottom", "offset": -139.3, "title": null, "values": [-100, 0, 100, 200, 300, 400], "labelExpr": "datum.value == -100 ? '-100' : (datum.value == 400 ? '400 ms' : '')", "labelOffset": {"condition": {"test": "datum.value == 400", "value": 7}, "value": 0}}},
     "y": {"field": "uv", "type": "quantitative", "scale": {"domain": [-1, 2.5], "reverse": true, "nice": false}, "axis": {"orient": "left", "offset": -55.6, "title": null, "values": [-1, 0, 1, 2, 2.5], "labelExpr": "datum.value == -1 ? '-1μV' : (datum.value == 2.5 ? '2.5' : '')"}},
     "color": {"field": "condition", "type": "nominal", "scale": {"domain": ["Frequency", "Intensity", "Duration", "Consonant", "Vowel"], "range": ["#A5A5A5", "#F47B20", "#A6DDE2", "#3DBA3D", "#C4258F"]}, "legend": {"title": null, "orient": "none", "legendX": 141, "legendY": 175, "symbolSize": 3136, "clipHeight": 24, "labelOffset": 10}},
     "strokeDash": {"field": "condition", "type": "nominal", "scale": {"domain": ["Frequency", "Intensity", "Duration", "Consonant", "Vowel"], "range": [[1, 0], [14, 4, 3, 4, 3, 4], [3, 3.5], [8, 7], [16, 5, 3, 5]]}, "legend": {"title": null, "orient": "none", "legendX": 141, "legendY": 175, "symbolSize": 3136, "clipHeight": 24, "labelOffset": 10}}
    }},
   {"data": {"name": "notes"}, "transform": [{"filter": "datum.panel == 'Overall'"}],
    "mark": {"type": "text", "align": "left", "baseline": "middle", "fontSize": 21},
    "encoding": {
     "x": {"field": "ms", "type": "quantitative", "scale": {"domain": [-100, 400], "nice": false}, "title": null},
     "y": {"field": "uv", "type": "quantitative", "scale": {"domain": [-1, 2.5], "reverse": true, "nice": false}, "title": null},
     "text": {"field": "label"}
    }},
   {"data": {"name": "pointers"}, "transform": [{"filter": "datum.panel == 'Overall'"}],
    "mark": {"type": "rule", "strokeWidth": 2, "color": "black"},
    "encoding": {
     "x": {"field": "ms", "type": "quantitative", "scale": {"domain": [-100, 400], "nice": false}, "title": null},
     "y": {"field": "uv", "type": "quantitative", "scale": {"domain": [-1, 2.5], "reverse": true, "nice": false}, "title": null},
     "x2": {"field": "ms2"}, "y2": {"field": "uv2"}
    }},
   {"data": {"name": "pointers"}, "transform": [{"filter": "datum.panel == 'Overall'"}],
    "mark": {"type": "point", "shape": "M-0.45,0.89L0,0L0.45,0.89", "size": 400, "filled": false, "stroke": "black", "strokeWidth": 2, "opacity": 1},
    "encoding": {
     "x": {"field": "ms2", "type": "quantitative", "scale": {"domain": [-100, 400], "nice": false}, "title": null},
     "y": {"field": "uv2", "type": "quantitative", "scale": {"domain": [-1, 2.5], "reverse": true, "nice": false}, "title": null},
     "angle": {"field": "angle", "type": "quantitative", "scale": null}
    }}
  ]
 },
 {
  "width": 265, "height": 195,
  "data": {"name": "links"},
  "layer": [
   {"mark": {"type": "rule", "strokeWidth": 2.5, "color": "black"},
    "encoding": {
     "x": {"field": "x", "type": "quantitative", "scale": {"domain": [0, 1], "nice": false, "zero": false}, "axis": null},
     "y": {"field": "y", "type": "quantitative", "scale": {"domain": [0, 1], "reverse": true, "nice": false, "zero": false}, "axis": null},
     "x2": {"field": "x2"}, "y2": {"field": "y2"}
    }},
   {"mark": {"type": "point", "shape": "M-0.45,0.89L0,0L0.45,0.89", "size": 576, "filled": false, "stroke": "black", "strokeWidth": 2.5, "opacity": 1},
    "encoding": {
     "x": {"field": "x2", "type": "quantitative", "scale": {"domain": [0, 1], "nice": false, "zero": false}, "axis": null},
     "y": {"field": "y2", "type": "quantitative", "scale": {"domain": [0, 1], "reverse": true, "nice": false, "zero": false}, "axis": null},
     "angle": {"field": "angle", "type": "quantitative", "scale": null}
    }}
  ]
 },
 {
  "width": 278, "height": 195,
  "title": {"text": "Duration", "dx": 16},
  "layer": [
   {"data": {"name": "erp"}, "transform": [{"filter": "datum.panel == 'Duration'"}],
    "mark": {"type": "line", "strokeWidth": 3, "interpolate": "monotone"},
    "encoding": {
     "x": {"field": "ms", "type": "quantitative", "scale": {"domain": [-100, 400], "nice": false}, "axis": {"orient": "bottom", "offset": -139.3, "title": null, "values": [-100, 0, 100, 200, 300, 400], "labelExpr": "datum.value == -100 ? '-100' : (datum.value == 400 ? '400 ms' : '')", "labelOffset": {"condition": {"test": "datum.value == 400", "value": 7}, "value": 0}}},
     "y": {"field": "uv", "type": "quantitative", "scale": {"domain": [-1, 2.5], "reverse": true, "nice": false}, "axis": {"orient": "left", "offset": -55.6, "title": null, "values": [-1, 0, 1, 2, 2.5], "labelExpr": "datum.value == -1 ? '-1μV' : (datum.value == 2.5 ? '2.5' : '')"}},
     "color": {"field": "group", "type": "nominal", "scale": {"domain": ["LG", "MG", "HG"], "range": ["#7F7F7F", "#9C2A2E", "#3A9AD9"]}, "legend": null},
     "strokeDash": {"field": "group", "type": "nominal", "scale": {"domain": ["LG", "MG", "HG"], "range": [[1, 0], [14, 3, 3, 3, 3, 3], [3, 2.6]]}, "legend": null}
    }},
   {"data": {"name": "notes"}, "transform": [{"filter": "datum.panel == 'Duration' && datum.label == '*'"}],
    "mark": {"type": "text", "align": "center", "baseline": "alphabetic", "fontSize": 28, "dy": 13},
    "encoding": {
     "x": {"field": "ms", "type": "quantitative", "scale": {"domain": [-100, 400], "nice": false}, "title": null},
     "y": {"field": "uv", "type": "quantitative", "scale": {"domain": [-1, 2.5], "reverse": true, "nice": false}, "title": null},
     "text": {"field": "label"}
    }}
  ]
 },
 {"width": 1, "height": 1, "data": {"values": []}, "mark": "point"},
 {"width": 1, "height": 1, "data": {"values": []}, "mark": "point"},
 {
  "width": 278, "height": 195,
  "title": {"text": "Consonant", "dx": 40},
  "layer": [
   {"data": {"name": "erp"}, "transform": [{"filter": "datum.panel == 'Consonant'"}],
    "mark": {"type": "line", "strokeWidth": 3, "interpolate": "monotone"},
    "encoding": {
     "x": {"field": "ms", "type": "quantitative", "scale": {"domain": [-100, 400], "nice": false}, "axis": {"orient": "bottom", "offset": -139.3, "title": null, "values": [-100, 0, 100, 200, 300, 400], "labelExpr": "datum.value == -100 ? '-100' : (datum.value == 400 ? '400 ms' : '')", "labelOffset": {"condition": {"test": "datum.value == 400", "value": 7}, "value": 0}}},
     "y": {"field": "uv", "type": "quantitative", "scale": {"domain": [-1, 2.5], "reverse": true, "nice": false}, "axis": {"orient": "left", "offset": -55.6, "title": null, "values": [-1, 0, 1, 2, 2.5], "labelExpr": "datum.value == -1 ? '-1μV' : (datum.value == 2.5 ? '2.5' : '')"}},
     "color": {"field": "group", "type": "nominal", "scale": {"domain": ["LG", "MG", "HG"], "range": ["#7F7F7F", "#9C2A2E", "#3A9AD9"]}, "legend": null},
     "strokeDash": {"field": "group", "type": "nominal", "scale": {"domain": ["LG", "MG", "HG"], "range": [[1, 0], [14, 3, 3, 3, 3, 3], [3, 2.6]]}, "legend": null}
    }},
   {"data": {"name": "notes"}, "transform": [{"filter": "datum.panel == 'Consonant' && datum.label == '*'"}],
    "mark": {"type": "text", "align": "center", "baseline": "alphabetic", "fontSize": 28, "dy": 13},
    "encoding": {
     "x": {"field": "ms", "type": "quantitative", "scale": {"domain": [-100, 400], "nice": false}, "title": null},
     "y": {"field": "uv", "type": "quantitative", "scale": {"domain": [-1, 2.5], "reverse": true, "nice": false}, "title": null},
     "text": {"field": "label"}
    }}
  ]
 },
 {"width": 1, "height": 1, "data": {"values": []}, "mark": "point"},
 {"width": 1, "height": 1, "data": {"values": []}, "mark": "point"},
 {
  "width": 278, "height": 195,
  "title": {"text": "Vowel", "dx": 7},
  "layer": [
   {"data": {"name": "erp"}, "transform": [{"filter": "datum.panel == 'Vowel'"}],
    "mark": {"type": "line", "strokeWidth": 3, "interpolate": "monotone"},
    "encoding": {
     "x": {"field": "ms", "type": "quantitative", "scale": {"domain": [-100, 400], "nice": false}, "axis": {"orient": "bottom", "offset": -139.3, "title": null, "values": [-100, 0, 100, 200, 300, 400], "labelExpr": "datum.value == -100 ? '-100' : (datum.value == 400 ? '400 ms' : '')", "labelOffset": {"condition": {"test": "datum.value == 400", "value": 7}, "value": 0}}},
     "y": {"field": "uv", "type": "quantitative", "scale": {"domain": [-1, 2.5], "reverse": true, "nice": false}, "axis": {"orient": "left", "offset": -55.6, "title": null, "values": [-1, 0, 1, 2, 2.5], "labelExpr": "datum.value == -1 ? '-1μV' : (datum.value == 2.5 ? '2.5' : '')"}},
     "color": {"field": "group", "type": "nominal", "scale": {"domain": ["LG", "MG", "HG"], "range": ["#7F7F7F", "#9C2A2E", "#3A9AD9"]}, "legend": null},
     "strokeDash": {"field": "group", "type": "nominal", "scale": {"domain": ["LG", "MG", "HG"], "range": [[1, 0], [14, 3, 3, 3, 3, 3], [3, 2.6]]}, "legend": null}
    }},
   {"data": {"name": "notes"}, "transform": [{"filter": "datum.panel == 'Vowel' && datum.label == '*'"}],
    "mark": {"type": "text", "align": "center", "baseline": "alphabetic", "fontSize": 28, "dy": 13},
    "encoding": {
     "x": {"field": "ms", "type": "quantitative", "scale": {"domain": [-100, 400], "nice": false}, "title": null},
     "y": {"field": "uv", "type": "quantitative", "scale": {"domain": [-1, 2.5], "reverse": true, "nice": false}, "title": null},
     "text": {"field": "label"}
    }}
  ]
 }
],
"columns": 3,
"spacing": {"row": 82, "column": 0},
"bounds": "flush",
"resolve": {"scale": {"color": "independent", "strokeDash": "independent"}, "legend": {"color": "independent", "strokeDash": "independent"}}
}
